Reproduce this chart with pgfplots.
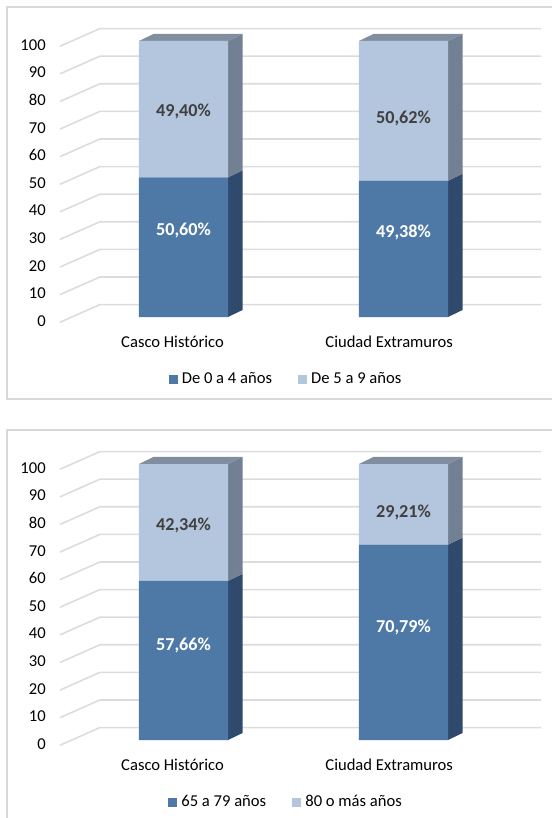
\documentclass[border=0pt]{standalone}
\usepackage{fontspec}
\setmainfont{Carlito}
\usepackage{pgfplots}
\pgfplotsset{compat=1.18}

\definecolor{darkfront}{HTML}{4E79A7}
\definecolor{darkside}{HTML}{304A6E}
\definecolor{lightfront}{HTML}{B4C6DE}
\definecolor{lightside}{HTML}{718092}
\definecolor{lighttop}{HTML}{808EA0}
\definecolor{gridc}{HTML}{DCDCDC}
\definecolor{framec}{HTML}{D9D9D9}
\definecolor{labelc}{HTML}{404040}

\pgfplotsset{
  panel/.style={scale only axis, width=240.5pt, height=138pt,
    xmin=-0.5614, xmax=1.625, ymin=0, ymax=100, clip=false, anchor=south west},
  back/.style={panel, hide axis},
  front/.style={panel, ybar stacked, bar width=0.405,
    axis line style={draw=none}, major tick length=0pt,
    ytick={0,10,...,100}, xtick={-0.05,0.935},
    /pgf/number format/assume math mode=true,
    tick label style={font=\fontsize{8.3}{10}\selectfont},
    yticklabel style={anchor=east, xshift=-3.6pt, yshift=-2pt},
    xticklabel style={anchor=center, yshift=-12.5pt},
    legend columns=2,
    legend style={at={(0.472,-0.225)}, anchor=center, draw=none, fill=none,
      font=\fontsize{8.3}{10}\selectfont,
      /tikz/every even column/.append style={column sep=11pt}},
    legend image code/.code={\draw[##1,draw=none] (0pt,-2.3pt) rectangle (4.6pt,2.3pt);},
  },
  labels/.style={panel, hide axis},
  seglab/.style={draw=none, nodes near coords, point meta=explicit symbolic,
    every node near coord/.append style={anchor=center, text=#1,
      font=\fontsize{9.1}{11}\selectfont\bfseries}},
}

\begin{document}
\begin{tikzpicture}
\useasboundingbox (0,0) rectangle (275.5pt,-409pt);
\draw[framec, line width=0.6pt] (3.5pt,-3.5pt) rectangle (280pt,-199.5pt);
\draw[framec, line width=0.6pt] (3.5pt,-215pt) rectangle (280pt,-415pt);

% panel 1: 0-9 years
\begin{axis}[back, at={(30pt,-158.5pt)}]
\pgfplotsinvokeforeach{0,10,...,100}{
  \draw[gridc, line width=0.8pt] (axis cs:-0.5614,{#1-1.9}) -- (axis cs:-0.380,{#1+4.5}) -- (axis cs:1.625,{#1+4.5});}
\addplot[fill=darkside, draw=none] coordinates {(0.2025,0) (0.2685,2.54) (0.2685,53.14) (0.2025,50.60)};
\addplot[fill=lightside, draw=none] coordinates {(0.2025,50.60) (0.2685,53.14) (0.2685,102.54) (0.2025,100)};
\addplot[fill=lighttop, draw=none] coordinates {(-0.2025,100) (-0.1365,102.54) (0.2685,102.54) (0.2025,100)};
\addplot[fill=darkside, draw=none] coordinates {(1.2025,0) (1.2685,2.54) (1.2685,51.92) (1.2025,49.38)};
\addplot[fill=lightside, draw=none] coordinates {(1.2025,49.38) (1.2685,51.92) (1.2685,102.54) (1.2025,100)};
\addplot[fill=lighttop, draw=none] coordinates {(0.7975,100) (0.8635,102.54) (1.2685,102.54) (1.2025,100)};
\end{axis}
\begin{axis}[front, at={(30pt,-158.5pt)}, xticklabels={Casco Histórico, Ciudad Extramuros}]
\addplot[fill=darkfront, draw=none] coordinates {(0,50.60) (1,49.38)};
\addplot[fill=lightfront, draw=none] coordinates {(0,49.40) (1,50.62)};
\legend{De 0 a 4 años, De 5 a 9 años}
\end{axis}
\begin{axis}[labels, at={(30pt,-158.5pt)}]
\addplot[seglab=white] coordinates {(0,31.5)[50,60\%] (1,30.8)[49,38\%]};
\addplot[seglab=labelc] coordinates {(0,74.4)[49,40\%] (1,72.0)[50,62\%]};
\end{axis}

% panel 2: 65 and over
\begin{axis}[back, at={(30pt,-370pt)}]
\pgfplotsinvokeforeach{0,10,...,100}{
  \draw[gridc, line width=0.8pt] (axis cs:-0.5614,{#1-1.9}) -- (axis cs:-0.380,{#1+4.5}) -- (axis cs:1.625,{#1+4.5});}
\addplot[fill=darkside, draw=none] coordinates {(0.2025,0) (0.2685,2.54) (0.2685,60.20) (0.2025,57.66)};
\addplot[fill=lightside, draw=none] coordinates {(0.2025,57.66) (0.2685,60.20) (0.2685,102.54) (0.2025,100)};
\addplot[fill=lighttop, draw=none] coordinates {(-0.2025,100) (-0.1365,102.54) (0.2685,102.54) (0.2025,100)};
\addplot[fill=darkside, draw=none] coordinates {(1.2025,0) (1.2685,2.54) (1.2685,73.33) (1.2025,70.79)};
\addplot[fill=lightside, draw=none] coordinates {(1.2025,70.79) (1.2685,73.33) (1.2685,102.54) (1.2025,100)};
\addplot[fill=lighttop, draw=none] coordinates {(0.7975,100) (0.8635,102.54) (1.2685,102.54) (1.2025,100)};
\end{axis}
\begin{axis}[front, at={(30pt,-370pt)}, xticklabels={Casco Histórico, Ciudad Extramuros}]
\addplot[fill=darkfront, draw=none] coordinates {(0,57.66) (1,70.79)};
\addplot[fill=lightfront, draw=none] coordinates {(0,42.34) (1,29.21)};
\legend{65 a 79 años, 80 o más años}
\end{axis}
\begin{axis}[labels, at={(30pt,-370pt)}]
\addplot[seglab=white] coordinates {(0,34.4)[57,66\%] (1,40.9)[70,79\%]};
\addplot[seglab=labelc] coordinates {(0,77.9)[42,34\%] (1,82.6)[29,21\%]};
\end{axis}
\end{tikzpicture}
\end{document}
